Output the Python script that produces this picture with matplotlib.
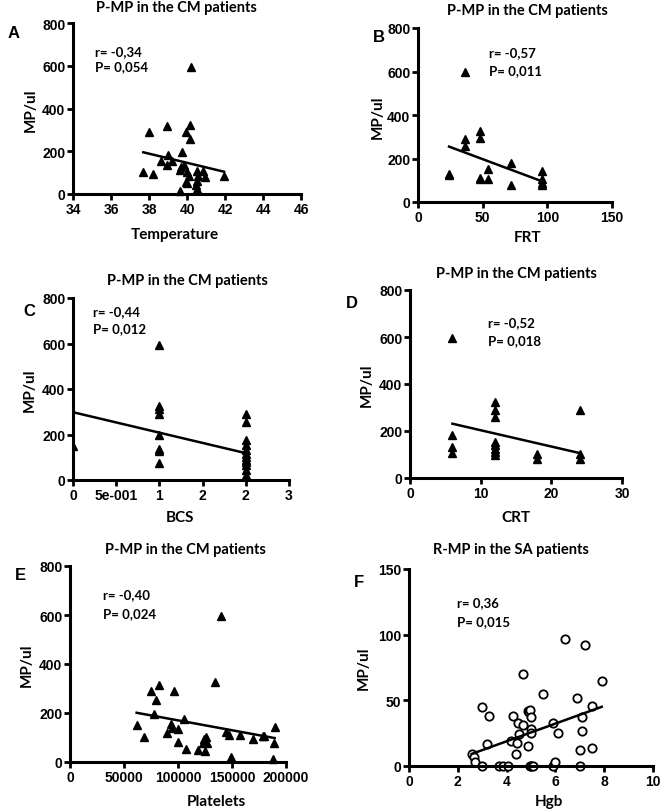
import numpy as np
import matplotlib
matplotlib.use('Agg')
import matplotlib.pyplot as plt

W, H = 662, 812

# ---- data ----
temp_x = [37.7, 38.0, 38.2, 38.95, 39.0, 38.95, 38.65, 39.2, 39.95, 40.2, 40.15, 40.15,
          39.75, 39.7, 39.65, 39.85, 40.0, 40.1, 39.95, 40.0, 39.65, 40.5, 40.5, 40.45,
          40.5, 40.85, 40.6, 40.95, 41.95]
temp_y = [101, 289, 92, 316, 183, 137, 153, 153, 289, 594, 325, 256,
          198, 125, 114, 137, 101, 86, 58, 50, 12, 106, 62, 44,
          23, 108, 86, 81, 83]

frt_x = [24, 24, 36, 36, 36, 48, 48, 48, 48, 54, 54, 72, 72, 96, 96, 96, 96]
frt_y = [130, 126, 596, 290, 259, 326, 293, 112, 108, 153, 104, 180, 79, 142, 104, 88, 80]

bcs_x = [0] + [1] * 8 + [2] * 13
bcs_y = [149,
         592, 324, 313, 289, 196, 138, 126, 76,
         289, 255, 177, 152, 130, 116, 101, 89, 79, 64, 45, 20, 9]

crt_x = [6] * 4 + [12] * 8 + [18] * 2 + [24] * 3
crt_y = [595, 181, 132, 108,
         324, 290, 258, 153, 139, 125, 110, 96,
         102, 79,
         288, 102, 79]

plt_x = [61700, 68200, 75000, 80000, 82100, 77500, 89800, 93500, 94400, 96000, 99700,
         100000, 105600, 107700, 118500, 123000, 124000, 125000, 125600, 126500, 134600,
         140000, 144700, 147000, 149400, 157000, 169400, 178400, 179300, 189500, 189200, 188300]
plt_y = [153, 101, 289, 254, 315, 197, 120, 154, 138, 289, 134,
         82, 175, 53, 48, 78, 94, 45, 104, 78, 325,
         594, 124, 111, 20, 112, 94, 105, 108, 142, 78, 12]

hgb_x = [2.57, 2.66, 2.72, 2.99, 3.0, 3.29, 3.18, 3.67, 3.85, 4.06, 4.19, 4.27, 4.41, 4.39,
         4.46, 4.49, 4.69, 4.69, 4.88, 4.9, 4.97, 5.01, 5.0, 5.01, 4.88, 4.95, 5.01, 5.1,
         5.48, 5.89, 5.92, 6.0, 6.1, 6.41, 6.9, 7.0, 7.0, 7.09, 7.09, 7.2, 7.49, 7.49, 7.9]
hgb_y = [9.1, 6.6, 3.3, 45, 0, 38, 16.5, 0, 0, 0, 19, 38, 17.5, 9,
         33, 24, 70, 31, 42, 41, 43, 37, 28, 25, 15, 0, 0, 0,
         55, 33, 0, 2.8, 25, 97, 52, 0, 12, 37, 27, 92, 14, 46, 65]

# regression lines as drawn (slope, intercept)
fits = [(-21.4, 1002), (-2.22, 308), (-90, 298), (-6.94, 272.7), (-0.000808, 250.8), (6.73, -8.1)]
stats = [('r= -0,34', 'P= 0,054'), ('r= -0,57', 'P= 0,011'), ('r= -0,44', 'P= 0,012'),
         ('r= -0,52', 'P= 0,018'), ('r= -0,40', 'P= 0,024'), ('r= 0,36', 'P= 0,015')]
titles = ['P-MP in the CM patients'] * 5 + ['R-MP in the SA patients']
xlabels = ['Temperature', 'FRT', 'BCS', 'CRT', 'Platelets', 'Hgb']
letters = ['A', 'B', 'C', 'D', 'E', 'F']

xdata = [temp_x, frt_x, bcs_x, crt_x, plt_x, hgb_x]
ydata = [temp_y, frt_y, bcs_y, crt_y, plt_y, hgb_y]
xticks = [[34, 36, 38, 40, 42, 44, 46], [0, 50, 100, 150], [0, 0.5, 1, 1.5, 2, 2.5],
          [0, 10, 20, 30], [0, 50000, 100000, 150000, 200000], [0, 2, 4, 6, 8, 10]]
xticklabels = [None, None, ['0', '5e-001', '1', '2', '2', '3'], None, None, None]
yticks = [[0, 200, 400, 600, 800]] * 5 + [[0, 50, 100, 150]]

# ---- layout (pixel boxes) ----
boxes = [(73, 301, 24, 195), (418, 612, 29, 203), (73, 289, 299, 481),
         (410, 622, 291, 479), (70, 286, 567, 763), (409, 653, 570, 767)]
title_pos = [(176, 8), (527, 11), (187, 281), (516, 274), (185, 550), (511, 550)]
letter_pos = [(8, 33), (373, 38), (23, 312), (346, 304), (15, 576), (354, 583)]
xlabel_pos = [(175, 235), (528, 238), (180, 518), (516, 518), (216, 802), (549, 802)]
ylabel_pos = [(31, 110), (378, 117), (30, 390), (367, 385), (27, 665), (364, 668)]
stat_pos = [(0.096, 0.838, 0.750), (0.364, 0.860, 0.759), (0.094, 0.927, 0.835),
            (0.369, 0.831, 0.734), (0.154, 0.857, 0.760), (0.197, 0.831, 0.738)]

lab_font = 'Lato'
tick_font = 'Liberation Sans'

fig = plt.figure(figsize=(W / 100, H / 100), dpi=100)

for i in range(6):
    x0, x1, y0, y1 = boxes[i]
    ax = fig.add_axes([x0 / W, 1 - y1 / H, (x1 - x0) / W, (y1 - y0) / H])
    xs = np.array(xdata[i], dtype=float)
    ys = np.array(ydata[i], dtype=float)
    if i == 5:
        ax.plot(xs, ys, 'o', mfc='white', mec='black', ms=6, mew=1.3,
                clip_on=False, zorder=3)
    else:
        ax.plot(xs, ys, '^', color='black', ms=6, clip_on=(i == 2), zorder=3)
    slope, icpt = fits[i]
    lx = np.array([xs.min(), xs.max()])
    ax.plot(lx, icpt + slope * lx, color='black', lw=1.8, zorder=4)

    ax.set_xlim(xticks[i][0], xticks[i][-1])
    ax.set_ylim(yticks[i][0], yticks[i][-1])
    ax.set_xticks(xticks[i])
    ax.set_yticks(yticks[i])
    if xticklabels[i] is not None:
        ax.set_xticklabels(xticklabels[i])
    for s in ['top', 'right']:
        ax.spines[s].set_visible(False)
    for s in ['left', 'bottom']:
        ax.spines[s].set_linewidth(2.2)
        ax.spines[s].set_zorder(5)
    ax.tick_params(direction='out', length=4, width=2, pad=1.5)
    for lab in ax.get_xticklabels() + ax.get_yticklabels():
        lab.set_fontfamily(tick_font)
        lab.set_fontweight('bold')
        lab.set_fontsize(10)

    ax.text(stat_pos[i][0], stat_pos[i][1], stats[i][0], transform=ax.transAxes,
            family=lab_font, weight='bold', fontsize=9.5, va='center')
    ax.text(stat_pos[i][0], stat_pos[i][2], stats[i][1], transform=ax.transAxes,
            family=lab_font, weight='bold', fontsize=9.5, va='center')

    tx, ty = title_pos[i]
    fig.text(tx / W, 1 - ty / H, titles[i], family=lab_font, weight='bold',
             fontsize=10.5, ha='center', va='center')
    lx_, ly_ = letter_pos[i]
    fig.text(lx_ / W, 1 - ly_ / H, letters[i], family=tick_font, weight='bold',
             fontsize=12, ha='left', va='center')
    xx, xy = xlabel_pos[i]
    fig.text(xx / W, 1 - xy / H, xlabels[i], family=lab_font, weight='bold',
             fontsize=11, ha='center', va='center')
    yx, yy = ylabel_pos[i]
    fig.text(yx / W, 1 - yy / H, 'MP/ul', family=lab_font, weight='bold',
             fontsize=11, ha='center', va='center', rotation=90)

fig.savefig('out.png', dpi=100)
